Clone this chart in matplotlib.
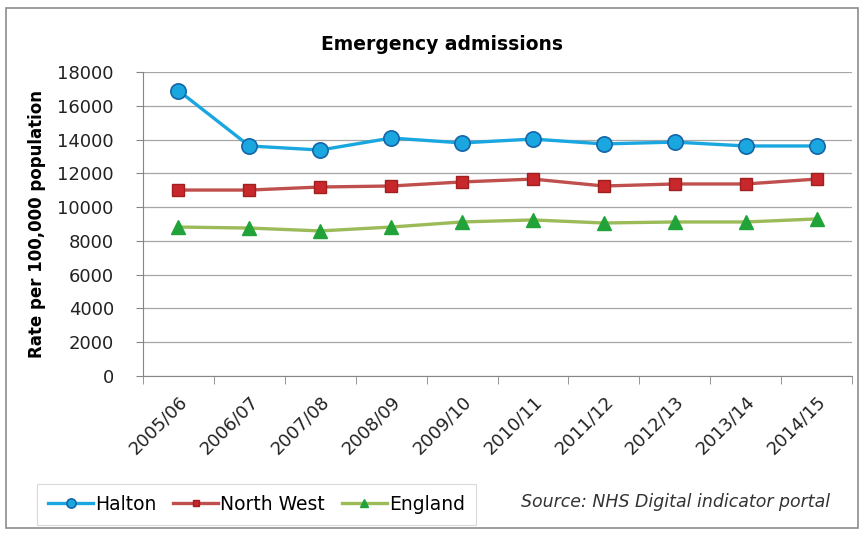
import matplotlib
matplotlib.use("Agg")
import matplotlib.pyplot as plt
from matplotlib.patches import Rectangle
import numpy as np

years = ["2005/06", "2006/07", "2007/08", "2008/09", "2009/10",
         "2010/11", "2011/12", "2012/13", "2013/14", "2014/15"]
halton = [16900, 13620, 13380, 14090, 13800, 14030, 13740, 13850, 13620, 13620]
north_west = [11010, 11010, 11190, 11250, 11490, 11660, 11250, 11370, 11370, 11660]
england = [8820, 8760, 8590, 8820, 9120, 9240, 9060, 9120, 9120, 9300]

plt.rcParams["font.family"] = ["DejaVu Sans"]

fig = plt.figure(figsize=(8.64, 5.33), dpi=100)
ax = fig.add_axes([143 / 864, 1 - 376 / 533, (852 - 143) / 864, (376 - 72) / 533])

# outer chart border
fig.patches.append(Rectangle((6 / 864, 1 - 528 / 533), 852 / 864, 520 / 533,
                             transform=fig.transFigure, fill=False,
                             edgecolor="#8c8c8c", linewidth=1.2))

x = np.arange(len(years))
ax.plot(x, halton, color="#1aa7e0", lw=2.4, marker="o", ms=11,
        mfc="#1aa7e0", mec="#1565a8", mew=1.2, label="Halton", zorder=4)
ax.plot(x, north_west, color="#c0504d", lw=2.4, marker="s", ms=8,
        mfc="#c8282c", mec="#a02020", mew=1.0, label="North West", zorder=3)
ax.plot(x, england, color="#9bbb59", lw=2.4, marker="^", ms=10,
        mfc="#22a33a", mec="#22a33a", label="England", zorder=3)

ax.set_xlim(-0.5, len(years) - 0.5)
ax.set_ylim(0, 18000)
ax.set_yticks(range(0, 18001, 2000))
ax.yaxis.grid(True, color="#a6a6a6", lw=0.9)
ax.set_axisbelow(True)
for s in ["top", "right"]:
    ax.spines[s].set_visible(False)
ax.spines["left"].set_color("#868686")
ax.spines["bottom"].set_color("#868686")
ax.tick_params(axis="y", length=5, color="#868686", labelsize=13, pad=16,
               labelcolor="#222222")

ax.set_xticks(x)
ax.set_xticklabels(years, rotation=45, ha="right", rotation_mode="anchor",
                   fontsize=13, color="#222222")
ax.tick_params(axis="x", length=0, pad=12)
ax.set_xticks(np.arange(-0.5, len(years)), minor=True)
ax.tick_params(axis="x", which="minor", length=6, color="#868686", direction="out")

ax.set_ylabel("Rate per 100,000 population", fontsize=12, fontweight="bold", labelpad=8)
fig.text(442 / 864, 1 - 44 / 533, "Emergency admissions",
         ha="center", va="center", fontsize=13.5, fontweight="bold")

leg = fig.legend(loc="lower left", bbox_to_anchor=(37 / 864, 1 - 525 / 533),
                 ncol=3, frameon=True, fontsize=13.5, handlelength=2.4,
                 handletextpad=0.1, columnspacing=0.9, borderpad=0.6,
                 borderaxespad=0, fancybox=False, markerscale=0.6)
leg.get_frame().set_edgecolor("#d0d0d0")
leg.get_frame().set_linewidth(0.8)

fig.text(830 / 864, 1 - 502 / 533, "Source: NHS Digital indicator portal",
         ha="right", va="center", fontsize=12.5, style="italic", color="#333333")

fig.savefig("out.png", dpi=100)
